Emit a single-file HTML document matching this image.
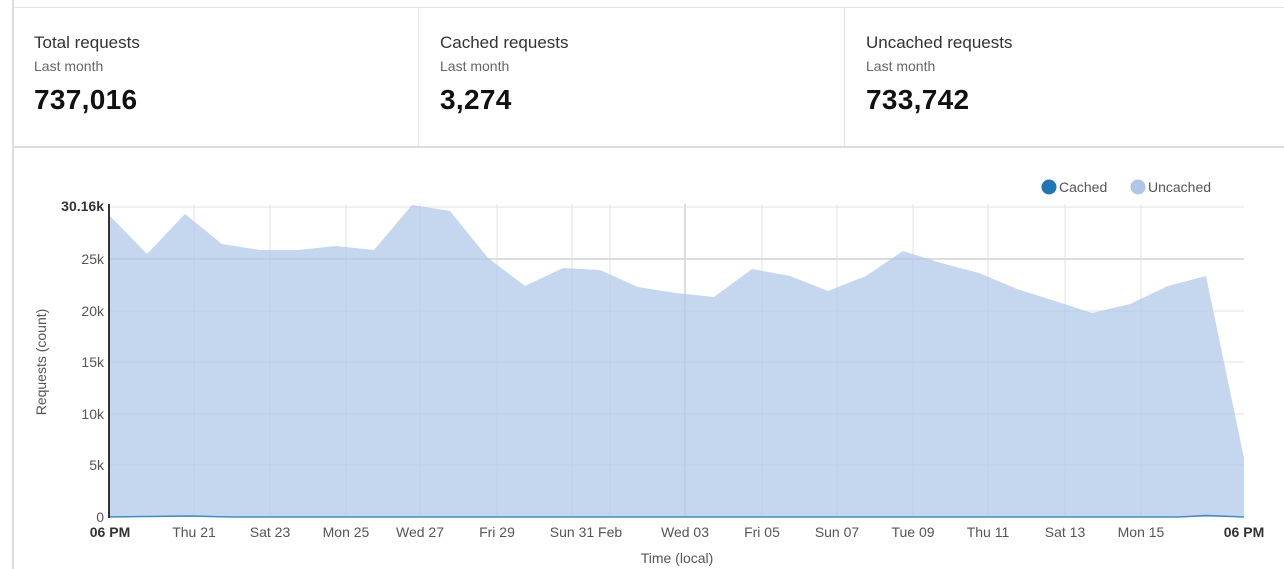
<!DOCTYPE html>
<html><head><style>
body{margin:0;width:1284px;height:569px;background:#fff;font-family:"Liberation Sans",sans-serif;overflow:hidden;position:relative;color:#333}
.card{position:absolute;top:33px}
.t{font-size:17px;color:#333}
.s{font-size:14px;color:#666;margin-top:5px}
.n{font-size:28px;color:#111;margin-top:10px;letter-spacing:0.3px;font-weight:bold;-webkit-text-stroke:0}
</style></head><body>
<div style="position:absolute;left:12px;top:0;width:2px;height:569px;background:#ddd"></div>
<div style="position:absolute;left:14px;top:7px;width:1270px;height:1px;background:#e5e5e5"></div>
<div style="position:absolute;left:14px;top:146px;width:1270px;height:2px;background:#ddd"></div>
<div style="position:absolute;left:418px;top:8px;width:1px;height:138px;background:#e5e5e5"></div>
<div style="position:absolute;left:844px;top:8px;width:1px;height:138px;background:#e5e5e5"></div>
<div class="card" style="left:34px"><div class="t">Total requests</div><div class="s">Last month</div><div class="n">737,016</div></div>
<div class="card" style="left:440px"><div class="t">Cached requests</div><div class="s">Last month</div><div class="n">3,274</div></div>
<div class="card" style="left:866px"><div class="t">Uncached requests</div><div class="s">Last month</div><div class="n">733,742</div></div>
<svg width="1284" height="569" style="position:absolute;left:0;top:0" font-family="Liberation Sans,sans-serif">
<g stroke="#e3e3e3" stroke-width="1">
<line x1="109" y1="207" x2="1244" y2="207"/>
<line x1="109" y1="311" x2="1244" y2="311"/>
<line x1="109" y1="362" x2="1244" y2="362"/>
<line x1="109" y1="414" x2="1244" y2="414"/>
<line x1="109" y1="465" x2="1244" y2="465"/>
<line x1="194" y1="204" x2="194" y2="517"/><line x1="270" y1="204" x2="270" y2="517"/><line x1="346" y1="204" x2="346" y2="517"/><line x1="420" y1="204" x2="420" y2="517"/><line x1="497" y1="204" x2="497" y2="517"/><line x1="572" y1="204" x2="572" y2="517"/><line x1="610" y1="204" x2="610" y2="517"/><line x1="762" y1="204" x2="762" y2="517"/><line x1="837" y1="204" x2="837" y2="517"/><line x1="913" y1="204" x2="913" y2="517"/><line x1="988" y1="204" x2="988" y2="517"/><line x1="1065" y1="204" x2="1065" y2="517"/><line x1="1141" y1="204" x2="1141" y2="517"/>
</g>
<line x1="685" y1="204" x2="685" y2="517" stroke="#ddd" stroke-width="2"/>
<line x1="109" y1="259" x2="1244" y2="259" stroke="#ddd" stroke-width="2"/>
<polygon fill="#aec7e8" fill-opacity="0.72" points="109,215 147,254 185,214 222,244 260,250 298,250 336,246 374,250 412,205 450,211 488,258 525,286 563,268 600,270 638,287 676,293 714,297 752,269 790,276 828,291 866,276 903,251 941,263 979,273 1017,289 1055,301 1092,313 1130,304 1168,286 1206,276 1244,458 1244,517 109,517"/>
<polyline fill="none" stroke="#1f77b4" stroke-width="1.5" stroke-opacity="0.8" points="109,517 190,516 230,517 1180,517 1206,515.5 1244,517"/>
<line x1="109" y1="204" x2="109" y2="518" stroke="#333" stroke-width="2"/>
<g font-size="14" fill="#555" text-anchor="end">
<text x="104" y="211" font-weight="bold" fill="#333">30.16k</text>
<text x="104" y="264">25k</text><text x="104" y="316">20k</text><text x="104" y="367">15k</text><text x="104" y="419">10k</text><text x="104" y="470">5k</text><text x="104" y="522">0</text>
</g>
<g font-size="14" fill="#555" text-anchor="middle">
<text x="110" y="537" font-weight="bold" fill="#333">06 PM</text>
<text x="194" y="537">Thu 21</text><text x="270" y="537">Sat 23</text><text x="346" y="537">Mon 25</text><text x="420" y="537">Wed 27</text><text x="497" y="537">Fri 29</text><text x="586" y="537">Sun 31 Feb</text><text x="685" y="537">Wed 03</text><text x="762" y="537">Fri 05</text><text x="837" y="537">Sun 07</text><text x="913" y="537">Tue 09</text><text x="988" y="537">Thu 11</text><text x="1065" y="537">Sat 13</text><text x="1141" y="537">Mon 15</text>
<text x="1244" y="537" font-weight="bold" fill="#333">06 PM</text>
<text x="677" y="563">Time (local)</text>
<text transform="translate(46,362) rotate(-90)">Requests (count)</text>
</g>
<circle cx="1049" cy="187" r="7.5" fill="#1f77b4"/>
<text x="1059" y="192" font-size="14" fill="#555">Cached</text>
<circle cx="1138" cy="187" r="7.5" fill="#aec7e8"/>
<text x="1148" y="192" font-size="14" fill="#555">Uncached</text>
</svg>
</body></html>
